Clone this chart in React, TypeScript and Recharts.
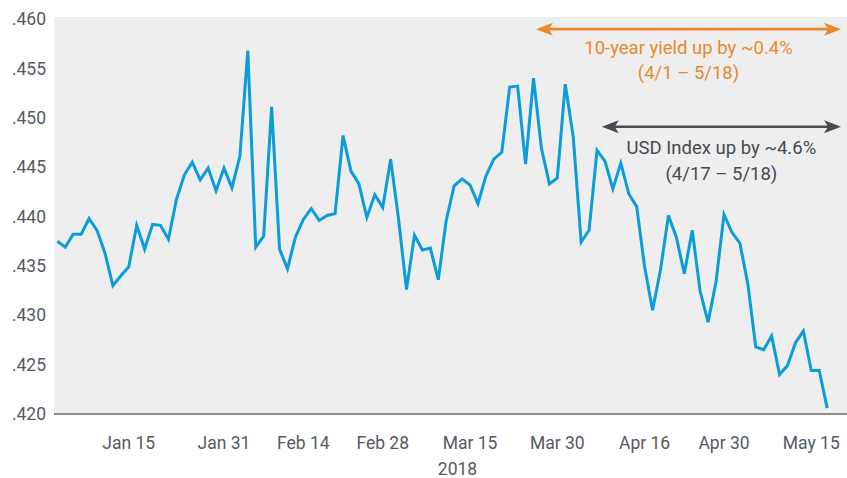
import React from 'react';
import { LineChart, Line, XAxis, YAxis, CartesianGrid, ReferenceLine } from 'recharts';

const dates = [
  'Jan 2', 'Jan 3', 'Jan 4', 'Jan 5', 'Jan 8', 'Jan 9', 'Jan 10', 'Jan 11', 'Jan 12', 'Jan 15',
  'Jan 16', 'Jan 17', 'Jan 18', 'Jan 19', 'Jan 22', 'Jan 23', 'Jan 24', 'Jan 25', 'Jan 26', 'Jan 29',
  'Jan 30', 'Jan 31', 'Feb 1', 'Feb 2', 'Feb 5', 'Feb 6', 'Feb 7', 'Feb 8', 'Feb 9', 'Feb 12',
  'Feb 13', 'Feb 14', 'Feb 15', 'Feb 16', 'Feb 19', 'Feb 20', 'Feb 21', 'Feb 22', 'Feb 23', 'Feb 26',
  'Feb 27', 'Feb 28', 'Mar 1', 'Mar 2', 'Mar 5', 'Mar 6', 'Mar 7', 'Mar 8', 'Mar 9', 'Mar 12',
  'Mar 13', 'Mar 14', 'Mar 15', 'Mar 16', 'Mar 19', 'Mar 20', 'Mar 21', 'Mar 22', 'Mar 23', 'Mar 26',
  'Mar 27', 'Mar 28', 'Mar 29', 'Mar 30', 'Apr 2', 'Apr 3', 'Apr 4', 'Apr 5', 'Apr 6', 'Apr 9',
  'Apr 10', 'Apr 11', 'Apr 12', 'Apr 13', 'Apr 16', 'Apr 17', 'Apr 18', 'Apr 19', 'Apr 20', 'Apr 23',
  'Apr 24', 'Apr 25', 'Apr 26', 'Apr 27', 'Apr 30', 'May 1', 'May 2', 'May 3', 'May 4', 'May 7',
  'May 8', 'May 9', 'May 10', 'May 11', 'May 14', 'May 15', 'May 16', 'May 17',
];

const values = [
  0.4375, 0.4369, 0.4382, 0.4382, 0.4398, 0.4386, 0.4363, 0.4330, 0.4340, 0.4349,
  0.4391, 0.4367, 0.4392, 0.4391, 0.4377, 0.4417, 0.4442, 0.4455, 0.4437, 0.4449,
  0.4426, 0.4449, 0.4429, 0.4461, 0.4568, 0.4369, 0.4380, 0.4511, 0.4367, 0.4347,
  0.4379, 0.4397, 0.4408, 0.4396, 0.4401, 0.4403, 0.4482, 0.4446, 0.4433, 0.4399,
  0.4422, 0.4409, 0.4458, 0.4397, 0.4326, 0.4381, 0.4366, 0.4368, 0.4336, 0.4396,
  0.4431, 0.4438, 0.4432, 0.4413, 0.4441, 0.4458, 0.4465, 0.4531, 0.4532, 0.4453,
  0.4540, 0.4469, 0.4433, 0.4439, 0.4534, 0.4481, 0.4374, 0.4386, 0.4467, 0.4456,
  0.4428, 0.4454, 0.4423, 0.4410, 0.4349, 0.4305, 0.4346, 0.4401, 0.4379, 0.4342,
  0.4386, 0.4324, 0.4293, 0.4334, 0.4402, 0.4384, 0.4373, 0.4332, 0.4268, 0.4265,
  0.4279, 0.4240, 0.4249, 0.4272, 0.4284, 0.4244, 0.4244, 0.4206,
];

const xTickLabels = ['Jan 15', 'Jan 31', 'Feb 14', 'Feb 28', 'Mar 15', 'Mar 30', 'Apr 16', 'Apr 30', 'May 15'];
const yTicks = [0.42, 0.425, 0.43, 0.435, 0.44, 0.445, 0.45, 0.455, 0.46];
const yearLabel = '2018';

const annotations = [
  { from: 60.3, to: 98.75, y: 0.45897, color: '#e8892f', lines: ['10-year yield up by ~0.4%', '(4/1 \u2013 5/18)'], dy1: 24.5, dy2: 50 },
  { from: 68.6, to: 98.75, y: 0.44908, color: '#454b51', lines: ['USD Index up by ~4.6%', '(4/17 \u2013 5/18)'], dy1: 27, dy2: 53 },
];

const data = values.map((v, i) => ({ i, date: dates[i], value: v }));
const xTicks = xTickLabels.map((l) => dates.indexOf(l));

const FONT = 'Roboto, "Noto Sans", sans-serif';
const TEXT_COLOR = '#555a5f';

function makeArrow(color: string, lines: string[], dy1: number, dy2: number) {
  return (p: any) => {
    const { x1, y1, x2 } = p;
    const y = y1;
    const hl = 17;
    const hw = 6.5;
    const left = Math.min(x1, x2);
    const right = Math.max(x1, x2);
    const cx = (left + right) / 2;
    return (
      <g>
        <line x1={left + hl - 4} y1={y} x2={right - hl + 4} y2={y} stroke={color} strokeWidth={2.6} />
        <polygon points={`${left},${y} ${left + hl},${y - hw} ${left + hl - 4},${y} ${left + hl},${y + hw}`} fill={color} />
        <polygon points={`${right},${y} ${right - hl},${y - hw} ${right - hl + 4},${y} ${right - hl},${y + hw}`} fill={color} />
        <text x={cx} y={y + dy1} textAnchor="middle" fill={color} fontFamily={FONT} fontSize={18.5}>{lines[0]}</text>
        <text x={cx} y={y + dy2} textAnchor="middle" fill={color} fontFamily={FONT} fontSize={18.5}>{lines[1]}</text>
      </g>
    );
  };
}

export default function App() {
  return (
    <div style={{ position: 'absolute', left: 0, top: 0, width: 847, height: 478, background: '#ffffff' }}>
      <LineChart width={847} height={478} data={data} margin={{ top: 17, right: 0, left: 0, bottom: 0 }}>
        <CartesianGrid horizontal={false} vertical={false} fill="#eeeeee" />
        <XAxis
          type="number"
          dataKey="i"
          domain={[-0.42, 99.5]}
          ticks={xTicks}
          tickFormatter={(i: number) => dates[i]}
          interval={0}
          height={64}
          tickLine={false}
          tickSize={0}
          tickMargin={23}
          axisLine={{ stroke: '#8a8a8a', strokeWidth: 2 }}
          tick={{ fill: TEXT_COLOR, fontFamily: FONT, fontSize: 17.5 }}
          allowDataOverflow
          label={{
            content: (props: any) => {
              const vb = props.viewBox || {};
              return (
                <text x={vb.x + vb.width / 2 + 7} y={vb.y + 60.5} textAnchor="middle" fill={TEXT_COLOR} fontFamily={FONT} fontSize={17.5}>
                  {yearLabel}
                </text>
              );
            },
          }}
        />
        <YAxis
          type="number"
          domain={[0.42, 0.4602]}
          ticks={yTicks}
          allowDataOverflow
          width={54}
          axisLine={false}
          tickLine={false}
          tickSize={0}
          tickMargin={8}
          interval={0}
          tickFormatter={(v: number) => v.toFixed(3).replace(/^0/, '')}
          tick={{ fill: TEXT_COLOR, fontFamily: FONT, fontSize: 17.5 }}
        />
        <Line
          type="linear"
          dataKey="value"
          stroke="#0b9cda"
          strokeWidth={3}
          dot={false}
          activeDot={false}
          isAnimationActive={false}
        />
        {annotations.map((a, k) => (
          <ReferenceLine
            key={k}
            segment={[{ x: a.from, y: a.y }, { x: a.to, y: a.y }]}
            ifOverflow="visible"
            shape={makeArrow(a.color, a.lines, a.dy1, a.dy2)}
          />
        ))}
      </LineChart>
    </div>
  );
}
